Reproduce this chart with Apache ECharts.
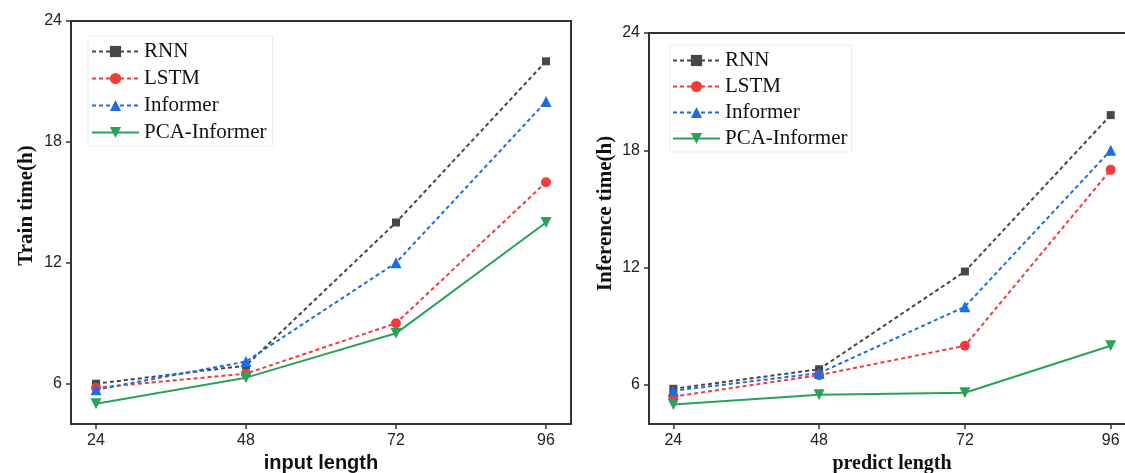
<!DOCTYPE html>
<html>
<head>
<meta charset="utf-8">
<script src="https://cdn.jsdelivr.net/npm/echarts@6/dist/echarts.min.js"></script>
<style>
html,body{margin:0;padding:0;background:#fff;}
#chart{width:1125px;height:473px;}
</style>
</head>
<body>
<div id="chart"></div>
<script>
// ---- data ----
var inputLengths = [24, 48, 72, 96];
var predictLengths = [24, 48, 72, 96];
var yTicks = [6, 12, 18, 24];
var seriesNames = ['RNN', 'LSTM', 'Informer', 'PCA-Informer'];

var trainRNN = [6.0, 6.9, 14.0, 22.0];
var trainLSTM = [5.8, 6.5, 9.0, 16.0];
var trainInformer = [5.7, 7.1, 12.0, 20.0];
var trainPCA = [5.0, 6.3, 8.5, 14.0];

var inferRNN = [5.8, 6.8, 11.8, 19.8];
var inferLSTM = [5.4, 6.5, 8.0, 17.0];
var inferInformer = [5.7, 6.6, 10.0, 18.0];
var inferPCA = [5.0, 5.5, 5.6, 8.0];

// ---- styles ----
var colors = ['#474747', '#f23c3c', '#1d6de6', '#29a35c'];
var symbols = ['rect', 'circle', 'triangle', 'triangle'];
var symbolSizes = [8, 10, 11, 11];
var symbolRot = [0, 0, 0, 180];
var dashed = [true, true, true, false];

function pairs(xs, ys) { return xs.map(function (x, i) { return [x, ys[i]]; }); }

function makeSeries(idx, xs, ys, gridIdx) {
  return {
    name: seriesNames[idx],
    type: 'line',
    xAxisIndex: gridIdx, yAxisIndex: gridIdx,
    data: pairs(xs, ys),
    symbol: symbols[idx],
    symbolSize: symbolSizes[idx],
    symbolRotate: symbolRot[idx],
    showAllSymbol: true,
    color: colors[idx],
    itemStyle: { color: colors[idx] },
    lineStyle: { color: colors[idx], width: 2, type: dashed[idx] ? [4, 3] : 'solid' },
    z: 3 + idx
  };
}

var tickFont = { fontFamily: 'Liberation Sans, Arial, sans-serif', fontSize: 16, color: '#222' };

function xAxis(gridIdx, name, nameFont) {
  return {
    type: 'value', gridIndex: gridIdx, min: 20, max: 100,
    name: name, nameLocation: 'middle', nameGap: 29,
    nameTextStyle: { fontFamily: nameFont, fontWeight: 'bold', fontSize: 20, color: '#111' },
    axisLine: { show: true, lineStyle: { color: '#333', width: 2 } },
    axisTick: { show: true, inside: false, length: 5, customValues: inputLengths, lineStyle: { color: '#333', width: 1.5 } },
    axisLabel: Object.assign({ margin: 9, customValues: inputLengths }, tickFont),
    splitLine: { show: false }
  };
}
function yAxis(gridIdx, name, gap, shift) {
  return {
    type: 'value', gridIndex: gridIdx, min: 4, max: 24,
    name: name, nameLocation: 'middle', nameGap: gap,
    nameTextStyle: { fontFamily: 'Liberation Serif, Times New Roman, serif', fontWeight: 'bold', fontSize: 21, color: '#111', padding: [0, 0, 0, shift] },
    axisLine: { show: true, lineStyle: { color: '#333', width: 2 } },
    axisTick: { show: true, inside: false, length: 5, customValues: yTicks, lineStyle: { color: '#333', width: 1.5 } },
    axisLabel: Object.assign({ margin: 9, customValues: yTicks }, tickFont),
    splitLine: { show: false }
  };
}

var legendBase = {
  orient: 'vertical',
  itemWidth: 47, itemHeight: 14,
  borderColor: '#ececec', borderWidth: 1,
  textStyle: { fontFamily: 'Liberation Serif, Times New Roman, serif', fontSize: 21, color: '#111', lineHeight: 20 },
  data: seriesNames
};

var chart = echarts.init(document.getElementById('chart'), null, { renderer: 'canvas' });
chart.setOption({
  animation: false,
  backgroundColor: '#fff',
  grid: [
    { left: 71, top: 21, width: 500, height: 403, show: true, borderColor: '#333', borderWidth: 2, outerBoundsMode: 'none', containLabel: false },
    { left: 649, top: 33, width: 486, height: 391, show: true, borderColor: '#333', borderWidth: 2, outerBoundsMode: 'none', containLabel: false }
  ],
  xAxis: [
    xAxis(0, 'input length', 'Liberation Sans, Arial, sans-serif'),
    xAxis(1, 'predict length', 'Liberation Serif, Times New Roman, serif')
  ],
  yAxis: [
    yAxis(0, 'Train time(h)', 34, 34),
    yAxis(1, 'Inference time(h)', 33, 30)
  ],
  legend: [
    Object.assign({}, legendBase, { left: 88, top: 36, itemGap: 6, padding: [5, 6, 3, 3] }),
    Object.assign({}, legendBase, { left: 670, top: 45, itemGap: 5, padding: [5, 4, 3, 2] })
  ],
  series: [
    makeSeries(0, inputLengths, trainRNN, 0),
    makeSeries(1, inputLengths, trainLSTM, 0),
    makeSeries(2, inputLengths, trainInformer, 0),
    makeSeries(3, inputLengths, trainPCA, 0),
    makeSeries(0, predictLengths, inferRNN, 1),
    makeSeries(1, predictLengths, inferLSTM, 1),
    makeSeries(2, predictLengths, inferInformer, 1),
    makeSeries(3, predictLengths, inferPCA, 1)
  ]
});
</script>
</body>
</html>
